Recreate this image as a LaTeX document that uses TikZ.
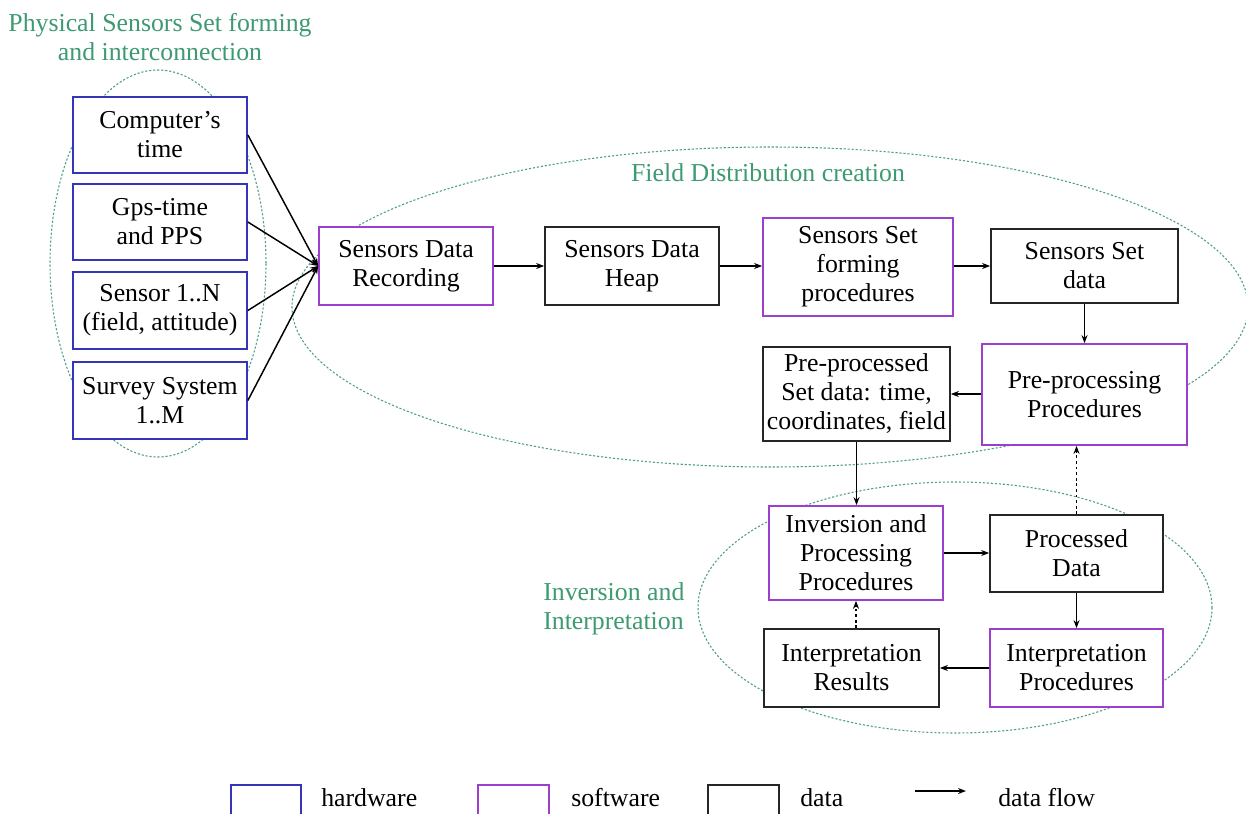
\documentclass[tikz,border=0pt]{standalone}
\usepackage{fontspec}
\setmainfont{Liberation Serif}
\usetikzlibrary{arrows.meta}
\definecolor{hwblue}{HTML}{3535B8}
\definecolor{swmag}{HTML}{9B3FCC}
\definecolor{databox}{HTML}{262626}
\definecolor{grpgreen}{HTML}{3E9A72}
\definecolor{ellgreen}{HTML}{4F9E86}
\tikzset{
  boxbase/.style={draw, line width=1.3pt, fill=white, align=center, inner sep=0pt},
  hwbox/.style={boxbase, draw=hwblue},
  swbox/.style={boxbase, draw=swmag},
  databx/.style={boxbase, draw=databox},
  flow/.style={line width=1.1pt, draw=black, -{Stealth[length=6pt,width=4.5pt]}},
  dflow/.style={flow, dash pattern=on 2pt off 2.2pt},
  group/.style={draw=ellgreen, line width=0.8pt, dash pattern=on 1.6pt off 1.4pt},
  grplabel/.style={text=grpgreen, align=center, inner sep=0pt},
  legtext/.style={anchor=base west, inner sep=0pt}
}
\begin{document}
\begin{tikzpicture}[x=0.75pt, y=-0.75pt, font=\fontsize{19.35pt}{21.75pt}\selectfont]
\clip (0,0) rectangle (1246,814);
\fill[white] (0,0) rectangle (1246,814);

% group ellipses
\draw[group] (158,263.5) ellipse [x radius=108, y radius=193.5];
\draw[group] (770,307) ellipse [x radius=478, y radius=160];
\draw[group] (955,607.5) ellipse [x radius=257, y radius=125.5];

% group labels
\node[grplabel] (lphys) at (160,37) {Physical Sensors Set forming\\and interconnection};
\node[grplabel] (lfield) at (768,173) {Field Distribution creation};
\node[grplabel, align=left, anchor=west] (linv) at (543,609) {Inversion and\\Interpretation};

% hardware
\node[hwbox, minimum width=174*0.75pt, minimum height=76*0.75pt] (ct) at (160,135) {Computer’s\\time};
\node[hwbox, minimum width=174*0.75pt, minimum height=76*0.75pt] (gps) at (160,222) {Gps-time\\and PPS};
\node[hwbox, minimum width=174*0.75pt, minimum height=77*0.75pt] (sen) at (160,310.5) {Sensor 1..N\\(field, attitude)};
\node[hwbox, minimum width=174*0.75pt, minimum height=77*0.75pt] (sur) at (160,400.5) {Survey System\\1..M};

% top row
\node[swbox, minimum width=174*0.75pt, minimum height=78*0.75pt] (rec) at (406,266) {Sensors Data\\Recording};
\node[databx, minimum width=174*0.75pt, minimum height=78*0.75pt] (heap) at (632,266) {Sensors Data\\Heap};
\node[swbox, minimum width=190*0.75pt, minimum height=98*0.75pt] (sfp) at (858,267) {Sensors Set\\forming\\procedures};
\node[databx, minimum width=187*0.75pt, minimum height=74*0.75pt] (ssd) at (1084.5,266) {Sensors Set\\data};

% second row
\node[swbox, minimum width=205*0.75pt, minimum height=101*0.75pt] (pre) at (1084.5,394.5) {Pre-processing\\Procedures};
\node[databx, minimum width=187*0.75pt, minimum height=94*0.75pt] (ppd) at (856.5,394) {Pre-processed\\Set data: time,\\coordinates, field};

% inversion group
\node[swbox, minimum width=174*0.75pt, minimum height=94*0.75pt] (inv) at (856,553) {Inversion and\\Processing\\Procedures};
\node[databx, minimum width=173*0.75pt, minimum height=77*0.75pt] (prd) at (1076.5,553.5) {Processed\\Data};
\node[databx, minimum width=175*0.75pt, minimum height=78*0.75pt] (irs) at (851.5,668) {Interpretation\\Results};
\node[swbox, minimum width=173*0.75pt, minimum height=78*0.75pt] (ipr) at (1076.5,668) {Interpretation\\Procedures};

% connectors
\draw[flow] (ct.east) -- (rec.west);
\draw[flow] (gps.east) -- (rec.west);
\draw[flow] (sen.east) -- (rec.west);
\draw[flow] (sur.east) -- (rec.west);
\draw[flow] (rec.east) -- (heap.west);
\draw[flow] (heap.east) -- (heap.east -| sfp.west);
\draw[flow] (sfp.east |- ssd.west) -- (ssd.west);
\draw[flow] (ssd.south) -- (pre.north);
\draw[flow] (pre.west |- ppd.east) -- (ppd.east);
\draw[flow] (ppd.south) -- (ppd.south |- inv.north);
\draw[flow] (inv.east) -- (inv.east -| prd.west);
\draw[flow] (prd.south) -- (ipr.north);
\draw[flow] (ipr.west) -- (irs.east);
\draw[dflow] (irs.north -| inv.south) -- (inv.south);
\draw[dflow] (prd.north) -- (prd.north |- pre.south);

% legend
\node[hwbox, minimum width=70*0.75pt, minimum height=40*0.75pt] (lghw) at (266,805) {};
\node[swbox, minimum width=71*0.75pt, minimum height=40*0.75pt] (lgsw) at (513.5,805) {};
\node[databx, minimum width=71*0.75pt, minimum height=40*0.75pt] (lgdt) at (743.5,805) {};
\node[legtext] (lthw) at (321,806) {hardware};
\node[legtext] (ltsw) at (571,806) {software};
\node[legtext] (ltdt) at (800,806) {data};
\coordinate (lga) at (915,791);
\coordinate (lgb) at (966,791);
\draw[flow] (lga) -- (lgb);
\node[legtext] (ltfl) at (998,806) {data flow};
\end{tikzpicture}
\end{document}
